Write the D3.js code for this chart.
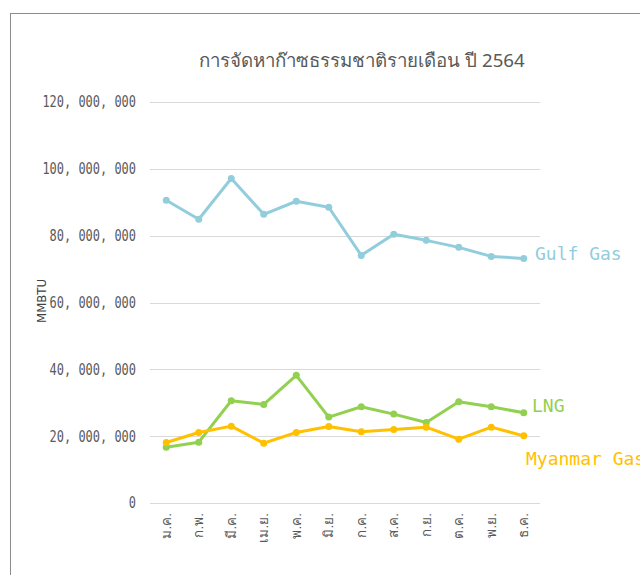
<!DOCTYPE html>
<html>
<head>
<meta charset="utf-8">
<script src="https://cdn.jsdelivr.net/npm/d3@7"></script>
<style>
  body { margin: 0; background: #fff; }
  svg { display: block; }
</style>
</head>
<body>
<div id="chart"></div>
<script>
// monthly values (MMBTU)
var months = ["ม.ค.", "ก.พ.", "มี.ค.", "เม.ย.", "พ.ค.", "มิ.ย.", "ก.ค.", "ส.ค.", "ก.ย.", "ต.ค.", "พ.ย.", "ธ.ค."];
var gulfGas = [90600000, 84900000, 97100000, 86400000, 90300000, 88500000, 74100000, 80400000, 78600000, 76500000, 73800000, 73200000];
var lng = [16700000, 18200000, 30600000, 29500000, 38200000, 25700000, 28800000, 26600000, 24100000, 30300000, 28800000, 27000000];
var myanmarGas = [18100000, 21100000, 23000000, 17900000, 21100000, 22900000, 21300000, 22000000, 22700000, 19100000, 22700000, 20100000];
var yTicks = [0, 20000000, 40000000, 60000000, 80000000, 100000000, 120000000];

var series = [
  { name: "Gulf Gas", values: gulfGas, color: "#92cddc", lx: 535, ly: 260 },
  { name: "LNG", values: lng, color: "#92d050", lx: 532, ly: 412 },
  { name: "Myanmar Gas", values: myanmarGas, color: "#ffc000", lx: 526, ly: 465 }
];

var svgWidth = 640;
var svgHeight = 575;

var svg = d3.select("#chart")
  .append("svg")
  .attr("width", svgWidth)
  .attr("height", svgHeight);

// outer frame
svg.append("rect")
  .attr("x", 10.5)
  .attr("y", 13.5)
  .attr("width", 700)
  .attr("height", 700)
  .attr("fill", "none")
  .attr("stroke", "#8c8c8c")
  .attr("stroke-width", 1);

var x = d3.scaleBand()
  .domain(months)
  .range([150, 540]);

var y = d3.scaleLinear()
  .domain([0, 120000000])
  .range([503, 102]);

// title
svg.append("text")
  .attr("x", 362)
  .attr("y", 67)
  .attr("text-anchor", "middle")
  .attr("fill", "#595959")
  .style("font-family", "'Noto Sans', sans-serif")
  .style("font-size", "18.7px")
  .text("การจัดหาก๊าซธรรมชาติรายเดือน ปี 2564");

// gridlines
svg.append("g")
  .selectAll("line")
  .data(yTicks)
  .enter()
  .append("line")
  .attr("x1", 150)
  .attr("x2", 540)
  .attr("y1", d => Math.round(y(d)) + 0.5)
  .attr("y2", d => Math.round(y(d)) + 0.5)
  .attr("stroke", "#d9d9d9")
  .attr("stroke-width", 1);

// y axis labels
var fmt = d3.format(",");
var leftAxis = d3.axisLeft(y)
  .tickValues(yTicks)
  .tickSize(0)
  .tickPadding(14)
  .tickFormat(d => fmt(d).replace(/,/g, ", "));

var yAxis = svg.append("g")
  .attr("transform", "translate(150,0)")
  .call(leftAxis);
yAxis.select(".domain").remove();
yAxis.selectAll("text")
  .attr("fill", "#595959")
  .style("font-family", "'DejaVu Sans Mono', monospace")
  .style("font-size", "15.5px")
  .attr("textLength", d => fmt(d).replace(/,/g, ", ").length * 7.2)
  .attr("lengthAdjust", "spacingAndGlyphs");

// x axis labels (rotated)
var bottomAxis = d3.axisBottom(x).tickSize(0).tickPadding(0);
var xAxis = svg.append("g")
  .attr("transform", "translate(0,503)")
  .call(bottomAxis);
xAxis.select(".domain").remove();
xAxis.selectAll("text")
  .attr("transform", "rotate(-90)")
  .attr("x", -10)
  .attr("y", 0)
  .attr("dy", "0.35em")
  .attr("text-anchor", "end")
  .attr("fill", "#595959")
  .style("font-family", "sans-serif")
  .style("font-size", "13.5px");

// y axis title
svg.append("text")
  .attr("transform", "translate(46,301) rotate(-90)")
  .attr("text-anchor", "middle")
  .attr("fill", "#404040")
  .style("font-family", "'DejaVu Sans Condensed', sans-serif")
  .style("font-size", "13px")
  .text("MMBTU");

var line = d3.line()
  .x((d, i) => x(months[i]) + x.bandwidth() / 2)
  .y(d => y(d));

series.forEach(function (s) {
  var g = svg.append("g");
  g.append("path")
    .datum(s.values)
    .attr("d", line)
    .attr("fill", "none")
    .attr("stroke", s.color)
    .attr("stroke-width", 3)
    .attr("stroke-linejoin", "round");
  g.selectAll("circle")
    .data(s.values)
    .enter()
    .append("circle")
    .attr("cx", (d, i) => x(months[i]) + x.bandwidth() / 2)
    .attr("cy", d => y(d))
    .attr("r", 3.5)
    .attr("fill", s.color);
  g.append("text")
    .attr("x", s.lx)
    .attr("y", s.ly)
    .attr("fill", s.color)
    .style("font-family", "'DejaVu Sans Mono', monospace")
    .style("font-size", "18px")
    .text(s.name);
});
</script>
</body>
</html>
